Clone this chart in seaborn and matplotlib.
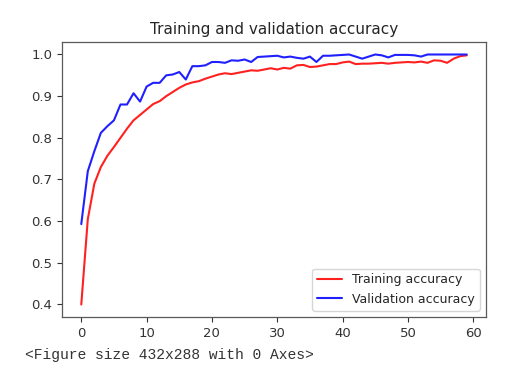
import numpy as np
import pandas as pd
import matplotlib
matplotlib.use("Agg")
import matplotlib.pyplot as plt
import seaborn as sns

# values
epochs = list(range(60))

train_acc = [
    0.400, 0.605, 0.690, 0.730, 0.757, 0.778, 0.800, 0.822, 0.842, 0.855,
    0.868, 0.881, 0.888, 0.900, 0.910, 0.920, 0.928, 0.933, 0.936, 0.942,
    0.947, 0.952, 0.955, 0.953, 0.956, 0.959, 0.962, 0.961, 0.964, 0.967,
    0.964, 0.968, 0.966, 0.974, 0.975, 0.970, 0.971, 0.974, 0.977, 0.977,
    0.981, 0.983, 0.977, 0.978, 0.978, 0.979, 0.980, 0.978, 0.980, 0.981,
    0.982, 0.981, 0.983, 0.980, 0.986, 0.985, 0.980, 0.990, 0.996, 0.998,
]

val_acc = [
    0.593, 0.720, 0.768, 0.812, 0.828, 0.842, 0.880, 0.880, 0.907, 0.887,
    0.923, 0.932, 0.932, 0.950, 0.952, 0.958, 0.940, 0.972, 0.972, 0.974,
    0.982, 0.982, 0.980, 0.986, 0.985, 0.988, 0.982, 0.994, 0.995, 0.996,
    0.997, 0.993, 0.995, 0.992, 0.990, 0.995, 0.982, 0.997, 0.997, 0.998,
    0.999, 1.000, 0.995, 0.990, 0.995, 1.000, 0.998, 0.993, 0.999, 0.999,
    0.999, 0.998, 0.995, 1.000, 1.000, 1.000, 1.000, 1.000, 1.000, 1.000,
]

df = pd.DataFrame({"epoch": epochs, "train": train_acc, "val": val_acc})

sns.set_style("white")
plt.rcParams["font.family"] = ["DejaVu Sans"]

fig = plt.figure(figsize=(5.16, 3.74), dpi=100)
ax = fig.add_axes([62 / 516, 1 - 317 / 374, 424 / 516, 275 / 374])

sns.lineplot(data=df, x="epoch", y="train", color="#ff2020", linewidth=1.5,
             label="Training accuracy", ax=ax)
sns.lineplot(data=df, x="epoch", y="val", color="#2020ff", linewidth=1.5,
             label="Validation accuracy", ax=ax)

ax.set_title("Training and validation accuracy", fontsize=11, color="0.15")
ax.set_xlabel("")
ax.set_ylabel("")
ax.set_xlim(-2.95, 61.95)
ax.set_ylim(0.37, 1.03)
ax.set_xticks([0, 10, 20, 30, 40, 50, 60])
ax.set_yticks([0.4, 0.5, 0.6, 0.7, 0.8, 0.9, 1.0])
ax.tick_params(axis="both", labelsize=9.5, colors="0.2", length=3.5,
               width=0.8, direction="out", left=True, bottom=True)
for s in ax.spines.values():
    s.set_color("0.35")
    s.set_linewidth(0.9)

ax.legend(loc="lower right", fontsize=9, frameon=True, framealpha=0.8,
          edgecolor="0.8", fancybox=True)

# notebook output line under the chart
fig.text(25 / 516, 1 - 355 / 374, "<Figure size 432x288 with 0 Axes>",
         family=["Liberation Mono", "DejaVu Sans Mono"], fontsize=10.5,
         color="0.2", va="center", ha="left")

fig.savefig("out.png", dpi=100)
